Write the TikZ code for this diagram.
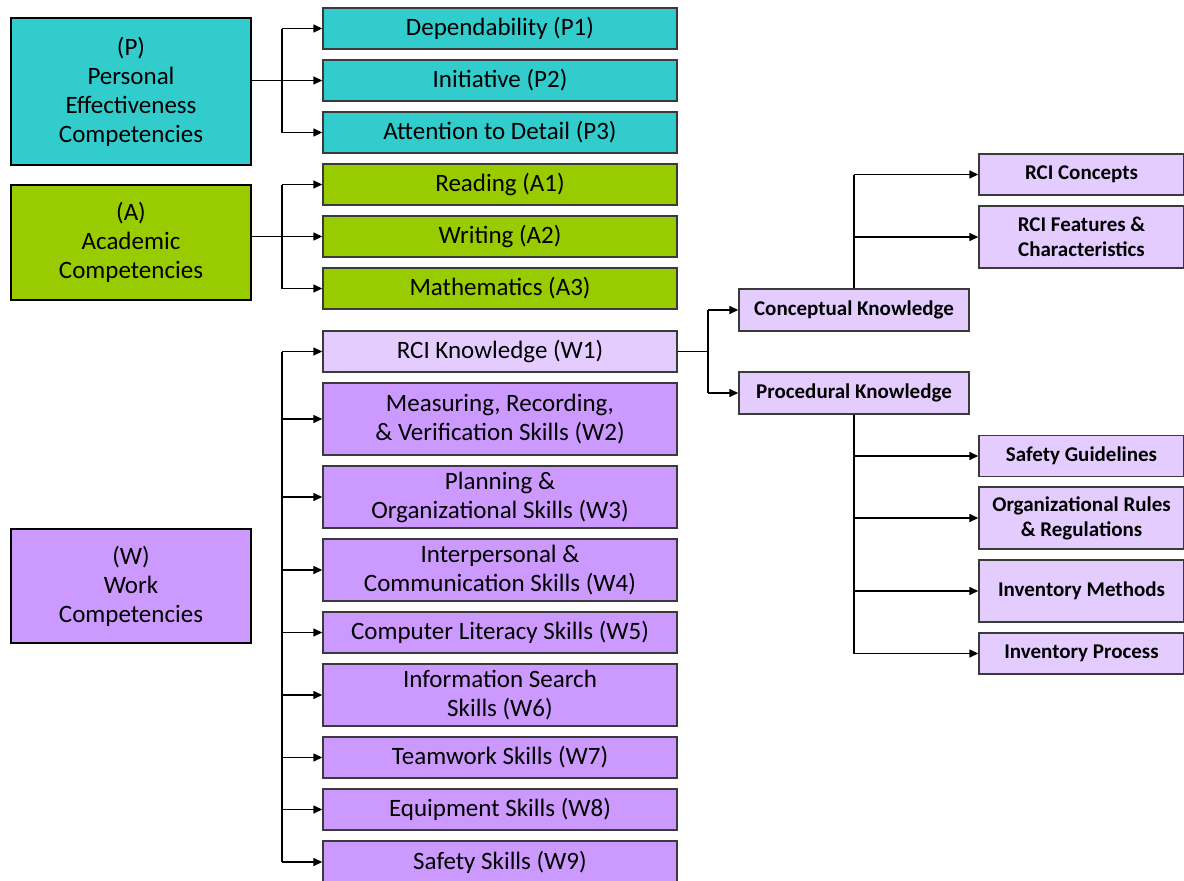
\documentclass[tikz,border=0pt]{standalone}
\usepackage{fontspec}
\setmainfont{Carlito}
\usetikzlibrary{arrows.meta,calc}
\definecolor{cteal}{HTML}{33CCCC}
\definecolor{cgreen}{HTML}{99CC00}
\definecolor{cpurple}{HTML}{CC99FF}
\definecolor{clight}{HTML}{E5CCFF}
\definecolor{cborder}{HTML}{3A3A3A}
\begin{document}
\begin{tikzpicture}[x=1pt,y=-1pt,
  base/.style={rectangle, inner sep=0pt, align=center, text=black},
  leftbox/.style={base, draw=black, line width=2.6pt, minimum width=240pt,
     font=\fontsize{25}{29}\selectfont},
  midbox/.style={base, draw=cborder, line width=1.4pt, minimum width=354pt,
     font=\fontsize{25}{29}\selectfont},
  rightbox/.style={base, draw=cborder, line width=1.4pt, fill=clight,
     font=\bfseries\fontsize{21}{25}\selectfont},
  conn/.style={draw=black, line width=1.4pt},
  arr/.style={conn, -{Triangle[length=9pt,width=8pt]}}
]
\useasboundingbox (0,0) rectangle (1184,881);
\fill[white] (0,0) rectangle (1184,881);

% left boxes
\node[leftbox, fill=cteal, minimum height=147pt] (P) at (131,91.5) {(P)\\Personal\\Effectiveness\\Competencies};
\node[leftbox, fill=cgreen, minimum height=115pt] (A) at (131,242.5) {(A)\\Academic\\Competencies};
\node[leftbox, fill=cpurple, minimum height=114pt] (W) at (131,586) {(W)\\Work\\Competencies};

% middle boxes
\node[midbox, fill=cteal, minimum height=41pt] (P1) at (500,28.5) {Dependability (P1)};
\node[midbox, fill=cteal, minimum height=41pt] (P2) at (500,80.5) {Initiative (P2)};
\node[midbox, fill=cteal, minimum height=41pt] (P3) at (500,132.5) {Attention to Detail (P3)};
\node[midbox, fill=cgreen, minimum height=41pt] (A1) at (500,184.5) {Reading (A1)};
\node[midbox, fill=cgreen, minimum height=41pt] (A2) at (500,236.5) {Writing (A2)};
\node[midbox, fill=cgreen, minimum height=41pt] (A3) at (500,288.5) {Mathematics (A3)};
\node[midbox, fill=clight, minimum height=41pt] (W1) at (500,351.5) {RCI Knowledge (W1)};
\node[midbox, fill=cpurple, minimum height=72pt] (W2) at (500,419) {Measuring, Recording,\\\& Verification Skills (W2)};
\node[midbox, fill=cpurple, minimum height=62pt] (W3) at (500,497) {Planning \&\\Organizational Skills (W3)};
\node[midbox, fill=cpurple, minimum height=62pt] (W4) at (500,570) {Interpersonal \&\\Communication Skills (W4)};
\node[midbox, fill=cpurple, minimum height=41pt] (W5) at (500,632.5) {Computer Literacy Skills (W5)};
\node[midbox, fill=cpurple, minimum height=62pt] (W6) at (500,695) {Information Search\\Skills (W6)};
\node[midbox, fill=cpurple, minimum height=41pt] (W7) at (500,757.5) {Teamwork Skills (W7)};
\node[midbox, fill=cpurple, minimum height=41pt] (W8) at (500,809.5) {Equipment Skills (W8)};
\node[midbox, fill=cpurple, minimum height=42pt] (W9) at (500,862) {Safety Skills (W9)};

% knowledge boxes
\node[rightbox, minimum width=230pt, minimum height=42pt] (CK) at (854,310) {Conceptual Knowledge};
\node[rightbox, minimum width=230pt, minimum height=42pt] (PK) at (854,393) {Procedural Knowledge};

% right boxes
\node[rightbox, minimum width=205pt, minimum height=41pt] (RC) at (1081.5,174.5) {RCI Concepts};
\node[rightbox, minimum width=205pt, minimum height=62pt] (RF) at (1081.5,237) {RCI Features \&\\Characteristics};
\node[rightbox, minimum width=205pt, minimum height=41pt] (SG) at (1081.5,456) {Safety Guidelines};
\node[rightbox, minimum width=205pt, minimum height=62pt] (OR) at (1081.5,518) {Organizational Rules\\\& Regulations};
\node[rightbox, minimum width=205pt, minimum height=62pt] (IM) at (1081.5,591) {Inventory Methods};
\node[rightbox, minimum width=205pt, minimum height=41pt] (IP) at (1081.5,653.5) {Inventory Process};

% bus coordinates
\coordinate (bP) at (282,0);
\coordinate (bK) at (708,0);

% P connectors
\draw[conn] (P.east |- P2) -- (bP |- P2);
\draw[conn] (bP |- P1) -- (bP |- P3);
\draw[arr] (bP |- P1) -- (P1.west);
\draw[arr] (bP |- P2) -- (P2.west);
\draw[arr] (bP |- P3) -- (P3.west);

% A connectors
\draw[conn] (A.east |- A2) -- (bP |- A2);
\draw[conn] (bP |- A1) -- (bP |- A3);
\draw[arr] (bP |- A1) -- (A1.west);
\draw[arr] (bP |- A2) -- (A2.west);
\draw[arr] (bP |- A3) -- (A3.west);

% W connectors
\draw[conn] (bP |- W1) -- (bP |- W9);
\foreach \n in {W1,W2,W3,W4,W5,W6,W7,W8,W9}
  \draw[arr] (bP |- \n) -- (\n.west);

% W1 to knowledge
\draw[conn] (W1.east) -- (bK |- W1);
\draw[conn] (bK |- CK) -- (bK |- PK);
\draw[arr] (bK |- CK) -- (CK.west);
\draw[arr] (bK |- PK) -- (PK.west);

% conceptual
\draw[conn] (CK.north) -- (CK.north |- RC);
\draw[arr] (CK.north |- RC) -- (RC.west);
\draw[arr] (CK.north |- RF) -- (RF.west);

% procedural
\draw[conn] (PK.south) -- (PK.south |- IP);
\draw[arr] (PK.south |- SG) -- (SG.west);
\draw[arr] (PK.south |- OR) -- (OR.west);
\draw[arr] (PK.south |- IM) -- (IM.west);
\draw[arr] (PK.south |- IP) -- (IP.west);
\end{tikzpicture}
\end{document}
